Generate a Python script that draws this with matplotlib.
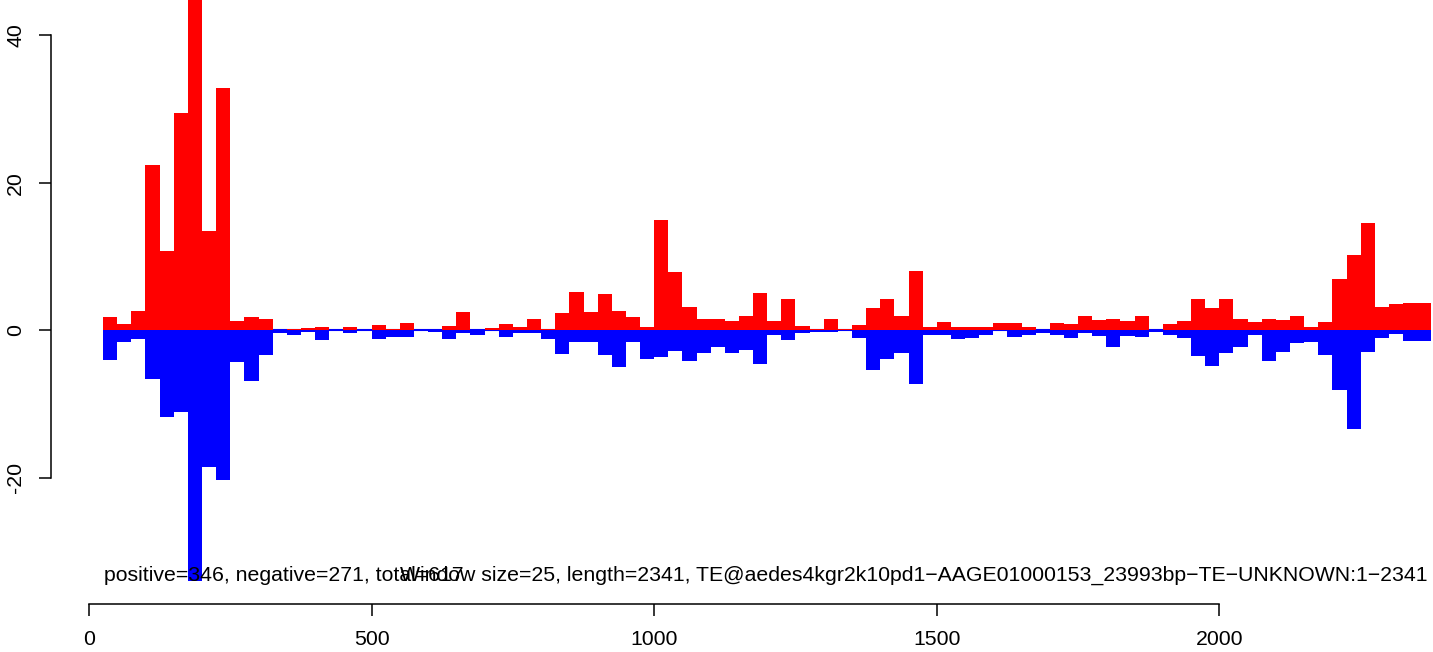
import numpy as np
import matplotlib
matplotlib.use("Agg")
import matplotlib.pyplot as plt

plt.rcParams['font.family'] = ['Liberation Sans', 'DejaVu Sans']

# window size and start of each window along the element
window_size = 25
window_start = np.arange(25, 2351, window_size)

# read counts per window (positive strand up, negative strand down)
pos = [1.8, 0.9, 2.55, 22.4, 10.7, 29.5, 46.0, 13.4, 32.8, 1.2,
       1.8, 1.6, 0.0, 0.2, 0.3, 0.4, 0.0, 0.4, 0.0, 0.7,
       0.2, 1.0, 0.0, 0.0, 0.6, 2.45, 0.0, 0.3, 0.86, 0.4,
       1.6, 0.14, 2.3, 5.2, 2.45, 4.9, 2.6, 1.8, 0.4, 14.9,
       7.9, 3.1, 1.5, 1.5, 1.2, 1.9, 5.0, 1.2, 4.3, 0.54,
       0.2, 1.6, 0.14, 0.7, 3.0, 4.2, 2.0, 8.1, 0.4, 1.1,
       0.4, 0.4, 0.4, 1.0, 1.0, 0.4, 0.0, 1.0, 0.8, 2.0,
       1.36, 1.6, 1.2, 1.9, 0.0, 0.8, 1.2, 4.3, 3.0, 4.2,
       1.5, 1.1, 1.6, 1.36, 2.0, 0.4, 1.1, 6.9, 10.2, 14.5,
       3.1, 3.5, 3.7, 3.7]
neg = [4.0, 1.6, 1.2, 6.6, 11.7, 11.0, 34.0, 18.5, 20.3, 4.3,
       6.8, 3.4, 0.4, 0.6, 0.2, 1.35, 0.0, 0.4, 0.0, 1.2,
       0.9, 0.9, 0.0, 0.27, 1.2, 0.36, 0.6, 0.1, 0.9, 0.36,
       0.36, 1.2, 3.2, 1.6, 1.6, 3.4, 5.0, 1.6, 3.9, 3.6,
       2.8, 4.2, 3.1, 2.26, 3.1, 2.7, 4.5, 0.6, 1.36, 0.36,
       0.2, 0.2, 0.1, 1.0, 5.4, 3.9, 3.1, 7.3, 0.6, 0.7,
       1.2, 1.1, 0.7, 0.1, 0.9, 0.7, 0.36, 0.7, 1.1, 0.36,
       0.8, 2.2, 0.8, 0.95, 0.2, 0.7, 1.1, 3.5, 4.8, 3.1,
       2.26, 0.6, 4.2, 3.0, 1.7, 1.6, 3.4, 8.1, 13.4, 2.9,
       1.0, 0.5, 1.45, 1.45]

xticks = [0, 500, 1000, 1500, 2000]
yticks = [-20, 0, 20, 40]

summary = "positive=346, negative=271, total=617"
title = ("Window size=25, length=2341, "
         "TE@aedes4kgr2k10pd1\u2212AAGE01000153_23993bp\u2212TE\u2212UNKNOWN:1\u22122341")

fs = 15.3
W, H = 1433, 652
fig = plt.figure(figsize=(W / 100, H / 100), dpi=100)
ax = fig.add_axes([51 / W, 48 / H, (W - 51) / W, 604 / H])

ax.hlines(0, window_start[0], window_start[-1] + window_size, color='blue', lw=1.5, zorder=1)
ax.bar(window_start, pos, width=window_size, align='edge', color='red',
       linewidth=0, antialiased=False, zorder=2)
ax.bar(window_start, -np.array(neg), width=window_size, align='edge', color='blue',
       linewidth=0, antialiased=False, zorder=2)

ax.set_xlim(-67.2, 2378)
ax.set_ylim(-37.07, 44.74)

for s in ['top', 'right']:
    ax.spines[s].set_visible(False)
ax.spines['bottom'].set_bounds(0, 2000)
ax.spines['left'].set_bounds(-20, 40)
for s in ['bottom', 'left']:
    ax.spines[s].set_linewidth(1.1)

ax.set_xticks(xticks)
ax.set_yticks(yticks)
ax.set_yticklabels([str(v) for v in yticks], rotation=90, va='center')
ax.tick_params(axis='x', length=8.6, width=1.1, pad=10, labelsize=fs)
ax.tick_params(axis='y', length=9, width=1.1, pad=9.5, labelsize=fs)

fig.text(104 / W, (H - 581) / H, summary, fontsize=fs, ha='left', va='baseline')
fig.text(1428 / W, (H - 581) / H, title, fontsize=fs, ha='right', va='baseline')

fig.savefig('out.png', dpi=100)
